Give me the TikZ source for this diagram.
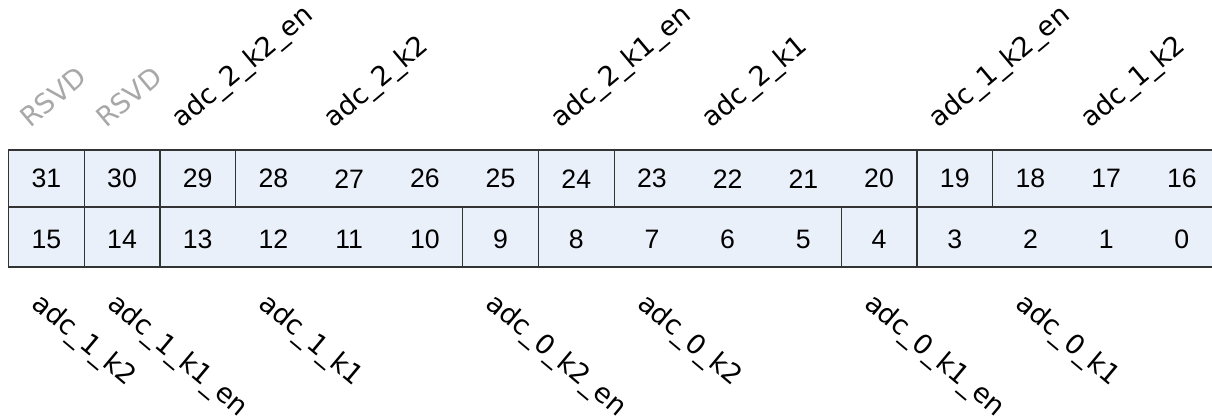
\documentclass[tikz,border=0pt]{standalone}
\usepackage{fontspec}
\setmainfont{Liberation Sans}
\newfontfamily\lblfont{DejaVu Sans}
\definecolor{cellfill}{HTML}{EAF0FA}
\definecolor{cellline}{HTML}{333333}
\definecolor{rsvdgray}{HTML}{A8A8A8}
\begin{document}
\begin{tikzpicture}[x=0.75pt,y=-0.75pt,
  fieldbox/.style={draw=cellline,fill=cellfill,line width=0.9pt},
  bitnum/.style={inner sep=0pt,font=\fontsize{20}{24}\selectfont},
  toplbl/.style={inner sep=0pt,anchor=base west,rotate=40,font=\lblfont\fontsize{20.3}{24}\selectfont},
  botlbl/.style={inner sep=0pt,anchor=base west,rotate=-40,font=\lblfont\fontsize{20.3}{24}\selectfont},
  rsvd/.style={text=rsvdgray}]
\clip (0,0) rectangle (1212,418);
\fill[white] (0,0) rectangle (1212,418);
\def\cw{75.7}
% row 1 fields
\foreach \a/\b in {0/1,1/2,2/3,3/7,7/8,8/12,12/13,13/16}{
  \draw[fieldbox] ({8.5+\a*\cw},150) rectangle ({8.5+\b*\cw},207);
}
% row 2 fields
\foreach \a/\b in {0/1,1/2,2/6,6/7,7/11,11/12,12/16}{
  \draw[fieldbox] ({8.5+\a*\cw},207) rectangle ({8.5+\b*\cw},267);
}
% bit numbers
\foreach \k in {0,...,15}{
  \pgfmathtruncatemacro{\hi}{31-\k}
  \pgfmathtruncatemacro{\lo}{15-\k}
  \node[bitnum] (b\hi) at ({8.5+(\k+0.5)*\cw},178.8) {\hi};
  \node[bitnum] (b\lo) at ({8.5+(\k+0.5)*\cw},239.5) {\lo};
}
% top labels
\node[toplbl,rsvd] (l31) at ({8.5+0.5*\cw-16},129) {RSVD};
\node[toplbl,rsvd] (l30) at ({8.5+1.5*\cw-16},129) {RSVD};
\node[toplbl] (l29) at ({8.5+2.5*\cw-16},129) {adc\_2\_k2\_en};
\node[toplbl] (l28) at ({8.5+4.5*\cw-16},129) {adc\_2\_k2};
\node[toplbl] (l24) at ({8.5+7.5*\cw-16},129) {adc\_2\_k1\_en};
\node[toplbl] (l23) at ({8.5+9.5*\cw-16},129) {adc\_2\_k1};
\node[toplbl] (l19) at ({8.5+12.5*\cw-16},129) {adc\_1\_k2\_en};
\node[toplbl] (l18) at ({8.5+14.5*\cw-16},129) {adc\_1\_k2};
% bottom labels
\node[botlbl] (l15) at ({8.5+0.5*\cw-16},306) {adc\_1\_k2};
\node[botlbl] (l14) at ({8.5+1.5*\cw-16},306) {adc\_1\_k1\_en};
\node[botlbl] (l13) at ({8.5+3.5*\cw-16},306) {adc\_1\_k1};
\node[botlbl] (l9) at ({8.5+6.5*\cw-16},306) {adc\_0\_k2\_en};
\node[botlbl] (l8) at ({8.5+8.5*\cw-16},306) {adc\_0\_k2};
\node[botlbl] (l4) at ({8.5+11.5*\cw-16},306) {adc\_0\_k1\_en};
\node[botlbl] (l3) at ({8.5+13.5*\cw-16},306) {adc\_0\_k1};
\end{tikzpicture}
\end{document}
